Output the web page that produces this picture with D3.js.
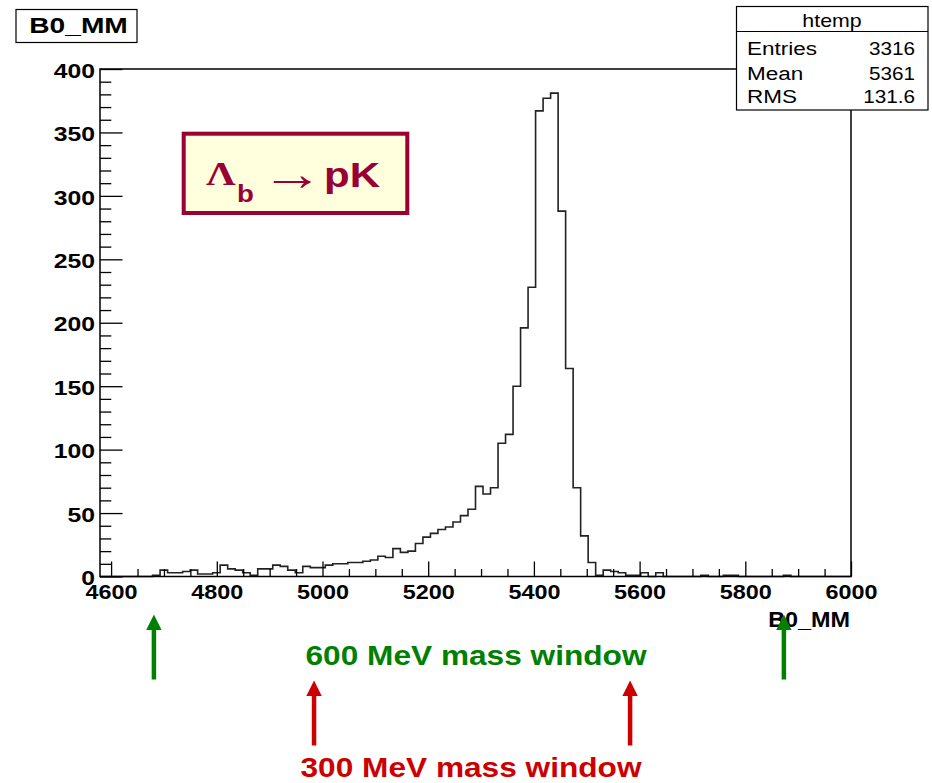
<!DOCTYPE html>
<html>
<head>
<meta charset="utf-8">
<script src="https://cdn.jsdelivr.net/npm/d3@7"></script>
<style>
  html, body { margin: 0; padding: 0; background: #fff; }
  svg { display: block; }
</style>
</head>
<body>
<div class="container"></div>
<script>
// B0_MM histogram, 100 bins between xMin and xMax (counts)
const xMin = 4579
const xMax = 6000
const counts = [
  0, 0, 0, 0, 0, 0, 0, 1, 5, 3,
  3, 4, 5, 2, 2, 3, 9, 6, 5, 3,
  1, 6, 6, 9, 8, 5, 3, 8, 7, 7,
  9, 10, 10, 11, 11, 12, 13, 16, 15, 22,
  19, 20, 26, 31, 34, 37, 39, 43, 48, 53,
  71, 65, 70, 105, 112, 150, 196, 228, 367, 377,
  381, 288, 164, 70, 32, 11, 1, 5, 4, 3,
  1, 1, 3, 0, 3, 0, 0, 0, 0, 0,
  1, 0, 0, 1, 1, 0, 0, 0, 0, 0,
  0, 1, 0, 0, 0, 0, 0, 0, 0, 0
]
const yMax = 400
const xMajorTicks = [4600, 4800, 5000, 5200, 5400, 5600, 5800, 6000]
const xMinorTicks = d3.range(4650, 6000, 50).filter((v) => v % 200 !== 0)
const yMajorTicks = [0, 50, 100, 150, 200, 250, 300, 350, 400]
const yMinorTicks = d3.range(10, 400, 10).filter((v) => v % 50 !== 0)
const statsTitle = 'htemp'
const statsRows = [
  ['Entries', '3316'],
  ['Mean', '5361'],
  ['RMS', '131.6'],
]
const histTitle = 'B0_MM'
const xTitle = 'B0_MM'
const greenWindow = [4681, 5873]
const redWindow = [4984, 5582]
const greenLabel = '600 MeV mass window'
const redLabel = '300 MeV mass window'

const W = 932
const H = 783
const frame = { left: 100, right: 851, top: 69, bottom: 576.5 }
const sans = "'Liberation Sans', Arial, Helvetica, sans-serif"
const serif = "'Liberation Serif', 'Times New Roman', serif"

const svg = d3
  .select('.container')
  .append('svg')
  .attr('width', W)
  .attr('height', H)

const x = d3.scaleLinear().domain([xMin, xMax]).range([frame.left, frame.right])
const y = d3.scaleLinear().domain([0, yMax]).range([frame.bottom, frame.top])

// text that is stretched sideways like the original picture
function label(parent, px, py, str, o) {
  return parent
    .append('text')
    .attr('transform', `translate(${px},${py}) scale(${o.sx || 1},1)`)
    .attr('text-anchor', o.anchor || 'start')
    .attr('font-family', o.family || sans)
    .attr('font-size', o.size)
    .attr('font-weight', o.weight || 'normal')
    .attr('fill', o.fill || '#000')
    .text(str)
}

// frame background
svg
  .append('rect')
  .attr('x', frame.left)
  .attr('y', frame.top)
  .attr('width', frame.right - frame.left)
  .attr('height', frame.bottom - frame.top)
  .attr('fill', '#fff')

// histogram outline
const binW = (xMax - xMin) / counts.length
const pts = [[xMin, 0]]
counts.forEach((c, i) => {
  pts.push([xMin + i * binW, c])
  pts.push([xMin + (i + 1) * binW, c])
})
pts.push([xMax, 0])

svg
  .append('path')
  .datum(pts)
  .attr('d', d3.line().x((d) => x(d[0])).y((d) => y(d[1])))
  .attr('fill', 'none')
  .attr('stroke', '#222')
  .attr('stroke-width', 1.6)

// axes
const xAxis = svg
  .append('g')
  .attr('transform', `translate(0,${frame.bottom})`)
  .call(
    d3
      .axisBottom(x)
      .tickValues(xMajorTicks)
      .tickSize(-15)
      .tickPadding(9)
      .tickFormat(d3.format('d'))
  )
xAxis
  .append('g')
  .call(d3.axisBottom(x).tickValues(xMinorTicks).tickSize(-7.5).tickFormat(''))

const yAxis = svg
  .append('g')
  .attr('transform', `translate(${frame.left},0)`)
  .call(
    d3
      .axisLeft(y)
      .tickValues(yMajorTicks)
      .tickSize(-22.5)
      .tickPadding(5)
      .tickFormat(d3.format('d'))
  )
yAxis
  .append('g')
  .call(d3.axisLeft(y).tickValues(yMinorTicks).tickSize(-11.3).tickFormat(''))

svg.selectAll('.domain').remove()
svg.selectAll('.tick line').attr('stroke', '#000').attr('stroke-width', 1.3)

xAxis
  .selectAll('text')
  .attr('font-family', sans)
  .attr('font-size', 19.5)
  .attr('font-weight', 'bold')
  .attr('fill', '#000')
  .attr('transform', 'scale(1.2,1)')

yAxis
  .selectAll('text')
  .attr('font-family', sans)
  .attr('font-size', 19.5)
  .attr('font-weight', 'bold')
  .attr('fill', '#000')
  .attr('dy', '0.42em')
  .attr('x', -5 / 1.27)
  .attr('transform', 'scale(1.27,1)')

// frame border
svg
  .append('rect')
  .attr('x', frame.left)
  .attr('y', frame.top)
  .attr('width', frame.right - frame.left)
  .attr('height', frame.bottom - frame.top)
  .attr('fill', 'none')
  .attr('stroke', '#000')
  .attr('stroke-width', 1.5)

label(svg, frame.right - 1, 626.5, xTitle, {
  size: 22.5,
  weight: 'bold',
  anchor: 'end',
  sx: 1.04,
})

// title box
svg
  .append('rect')
  .attr('x', 16)
  .attr('y', 9.5)
  .attr('width', 121)
  .attr('height', 33)
  .attr('fill', '#fff')
  .attr('stroke', '#000')
  .attr('stroke-width', 1.2)
label(svg, 78.5, 33.3, histTitle, {
  size: 22,
  weight: 'bold',
  anchor: 'middle',
  sx: 1.28,
})

// stats box
const stats = svg.append('g')
stats
  .append('rect')
  .attr('x', 736.5)
  .attr('y', 6.5)
  .attr('width', 191.5)
  .attr('height', 103.5)
  .attr('fill', '#fff')
  .attr('stroke', '#000')
  .attr('stroke-width', 1.2)
stats
  .append('line')
  .attr('x1', 736.5)
  .attr('x2', 928)
  .attr('y1', 31.5)
  .attr('y2', 31.5)
  .attr('stroke', '#000')
  .attr('stroke-width', 1.2)
label(stats, 832, 27, statsTitle, { size: 17.5, anchor: 'middle', sx: 1.22 })
const rowY = [55, 79.5, 103]
statsRows.forEach((r, i) => {
  label(stats, 747, rowY[i], r[0], { size: 18, sx: 1.25 })
  label(stats, 915, rowY[i], r[1], { size: 18, anchor: 'end', sx: 1.15 })
})

// Lambda_b -> pK box
const maroon = '#990033'
svg
  .append('rect')
  .attr('x', 183.7)
  .attr('y', 133.7)
  .attr('width', 223.6)
  .attr('height', 79.3)
  .attr('fill', '#ffffdd')
  .attr('stroke', maroon)
  .attr('stroke-width', 4)
label(svg, 206, 185, 'Λ', { size: 34, weight: 'bold', family: serif, fill: maroon, sx: 1.22 })
label(svg, 237, 201.5, 'b', { size: 23, weight: 'bold', fill: maroon, sx: 1.2 })
label(svg, 261, 190, '→', { size: 48, fill: maroon, sx: 1.3 })
label(svg, 324, 186.5, 'pK', { size: 35, weight: 'bold', fill: maroon, sx: 1.2 })

// mass window arrows
function arrow(xv, yTip, yEnd, color) {
  const px = x(xv)
  svg
    .append('line')
    .attr('x1', px)
    .attr('x2', px)
    .attr('y1', yTip + 12)
    .attr('y2', yEnd)
    .attr('stroke', color)
    .attr('stroke-width', 4.5)
  svg
    .append('path')
    .attr('d', `M${px},${yTip} L${px - 7.7},${yTip + 15.5} L${px + 7.7},${yTip + 15.5} Z`)
    .attr('fill', color)
}

const green = '#008000'
const red = '#cc0000'
greenWindow.forEach((v) => arrow(v, 614.5, 679.5, green))
redWindow.forEach((v) => arrow(v, 680.5, 745.5, red))

label(svg, 476, 665, greenLabel, {
  size: 28,
  weight: 'bold',
  anchor: 'middle',
  fill: green,
  sx: 1.13,
})
label(svg, 471, 776.5, redLabel, {
  size: 28,
  weight: 'bold',
  anchor: 'middle',
  fill: red,
  sx: 1.13,
})
</script>
</body>
</html>
